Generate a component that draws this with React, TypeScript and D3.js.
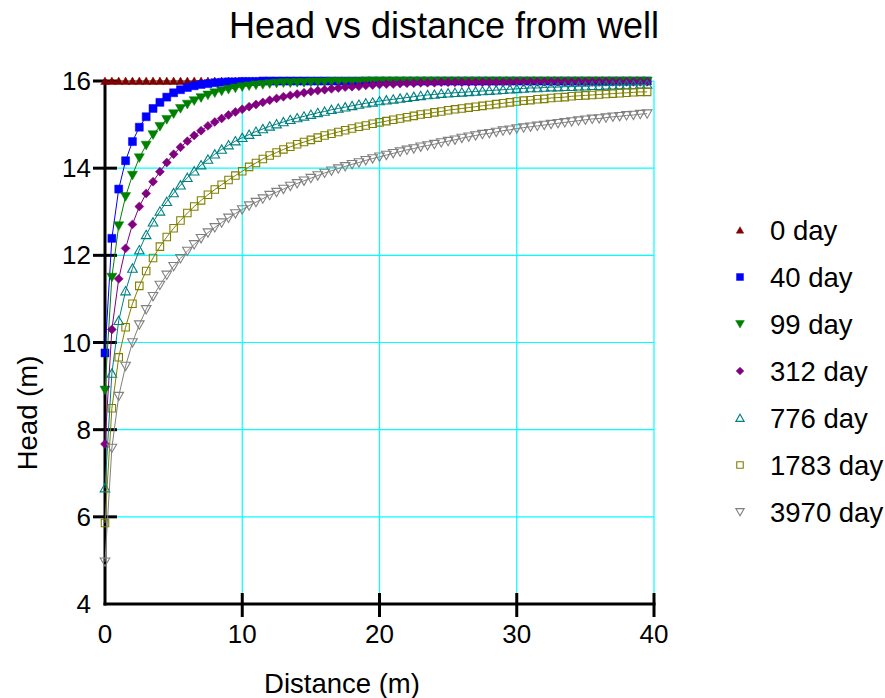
import React from "react";
import * as d3 from "d3";

// distance from the well (m), one sample every 0.5 m
const distance = d3.range(0, 40, 0.5);

const seriesNames = ["0 day", "40 day", "99 day", "312 day", "776 day", "1783 day", "3970 day"];
const seriesColors = ["#800000", "#0000ff", "#008000", "#800080", "#008080", "#808000", "#808080"];

const head0 = [
  16, 16, 16, 16, 16, 16, 16, 16, 16, 16, 16, 16, 16, 16, 16, 16, 16, 16, 16, 16,
  16, 16, 16, 16, 16, 16, 16, 16, 16, 16, 16, 16, 16, 16, 16, 16, 16, 16, 16, 16,
  16, 16, 16, 16, 16, 16, 16, 16, 16, 16, 16, 16, 16, 16, 16, 16, 16, 16, 16, 16,
  16, 16, 16, 16, 16, 16, 16, 16, 16, 16, 16, 16, 16, 16, 16, 16, 16, 16, 16, 16,
];
const head40 = [
  9.76, 12.39, 13.52, 14.17, 14.61, 14.94, 15.18, 15.37, 15.51, 15.63,
  15.73, 15.8, 15.85, 15.89, 15.92, 15.94, 15.96, 15.97, 15.98, 15.98,
  15.99, 15.99, 15.99, 16, 16, 16, 16, 16, 16, 16,
  16, 16, 16, 16, 16, 16, 16, 16, 16, 16, 16, 16, 16, 16, 16, 16, 16, 16, 16, 16,
  16, 16, 16, 16, 16, 16, 16, 16, 16, 16, 16, 16, 16, 16, 16, 16, 16, 16, 16, 16,
  16, 16, 16, 16, 16, 16, 16, 16, 16, 16,
];
const head99 = [
  8.91, 11.5, 12.68, 13.35, 13.84, 14.24, 14.53, 14.77, 14.96, 15.12,
  15.25, 15.37, 15.47, 15.55, 15.62, 15.68, 15.73, 15.77, 15.81, 15.84,
  15.87, 15.89, 15.91, 15.92, 15.94, 15.95, 15.96, 15.96, 15.97, 15.97,
  15.98, 15.98, 15.98, 15.99, 15.99, 15.99, 15.99, 15.99, 16, 16,
  16, 16, 16, 16, 16, 16, 16, 16, 16, 16, 16, 16, 16, 16, 16, 16, 16, 16, 16, 16,
  16, 16, 16, 16, 16, 16, 16, 16, 16, 16, 16, 16, 16, 16, 16, 16, 16, 16, 16, 16,
];
const head312 = [
  7.67, 10.3, 11.46, 12.16, 12.71, 13.12, 13.42, 13.69, 13.92, 14.13,
  14.32, 14.48, 14.62, 14.75, 14.86, 14.97, 15.06, 15.14, 15.22, 15.29,
  15.35, 15.41, 15.46, 15.51, 15.56, 15.6, 15.64, 15.67, 15.7, 15.73,
  15.76, 15.78, 15.8, 15.82, 15.84, 15.86, 15.87, 15.88, 15.9, 15.91,
  15.92, 15.93, 15.93, 15.94, 15.95, 15.95, 15.96, 15.96, 15.96, 15.97,
  15.97, 15.97, 15.97, 15.97, 15.97, 15.97, 15.97, 15.97, 15.97, 15.97,
  15.98, 15.98, 15.98, 15.98, 15.98, 15.98, 15.98, 15.98, 15.98, 15.98,
  15.98, 15.98, 15.98, 15.98, 15.98, 15.98, 15.98, 15.98, 15.98, 15.98,
];
const head776 = [
  6.66, 9.29, 10.5, 11.18, 11.7, 12.12, 12.47, 12.76, 13.01, 13.23,
  13.43, 13.61, 13.78, 13.93, 14.07, 14.2, 14.32, 14.43, 14.53, 14.62,
  14.7, 14.77, 14.84, 14.9, 14.96, 15.01, 15.06, 15.11, 15.15, 15.19,
  15.23, 15.27, 15.3, 15.34, 15.37, 15.4, 15.43, 15.46, 15.49, 15.51,
  15.54, 15.56, 15.58, 15.6, 15.62, 15.64, 15.66, 15.68, 15.69, 15.71,
  15.72, 15.73, 15.74, 15.75, 15.76, 15.77, 15.78, 15.79, 15.8, 15.81,
  15.82, 15.83, 15.84, 15.84, 15.85, 15.86, 15.86, 15.87, 15.87, 15.88,
  15.88, 15.89, 15.89, 15.9, 15.9, 15.91, 15.91, 15.91, 15.92, 15.92,
];
const head1783 = [
  5.86, 8.49, 9.66, 10.35, 10.89, 11.3, 11.64, 11.94, 12.2, 12.42,
  12.62, 12.8, 12.97, 13.12, 13.26, 13.39, 13.51, 13.62, 13.73, 13.83,
  13.93, 14.03, 14.12, 14.21, 14.29, 14.36, 14.43, 14.49, 14.55, 14.6,
  14.65, 14.7, 14.75, 14.79, 14.83, 14.87, 14.91, 14.95, 14.98, 15.02,
  15.05, 15.08, 15.11, 15.14, 15.17, 15.2, 15.23, 15.25, 15.28, 15.3,
  15.33, 15.35, 15.37, 15.39, 15.41, 15.43, 15.45, 15.47, 15.49, 15.51,
  15.53, 15.55, 15.56, 15.58, 15.59, 15.61, 15.62, 15.63, 15.65, 15.66,
  15.67, 15.68, 15.69, 15.7, 15.71, 15.72, 15.73, 15.74, 15.75, 15.75,
];
const head3970 = [
  4.97, 7.58, 8.77, 9.46, 10.0, 10.41, 10.76, 11.06, 11.32, 11.55,
  11.75, 11.93, 12.1, 12.25, 12.39, 12.52, 12.64, 12.75, 12.86, 12.96,
  13.05, 13.14, 13.22, 13.3, 13.38, 13.45, 13.52, 13.59, 13.65, 13.71,
  13.77, 13.83, 13.89, 13.94, 13.99, 14.04, 14.09, 14.13, 14.18, 14.22,
  14.26, 14.3, 14.34, 14.38, 14.42, 14.45, 14.49, 14.52, 14.55, 14.59,
  14.62, 14.65, 14.69, 14.72, 14.75, 14.78, 14.8, 14.83, 14.86, 14.88,
  14.91, 14.93, 14.95, 14.97, 14.99, 15.01, 15.03, 15.05, 15.07, 15.09,
  15.11, 15.13, 15.14, 15.16, 15.18, 15.19, 15.21, 15.22, 15.24, 15.25,
];

const xTicks = [0, 10, 20, 30, 40];
const yTicks = [4, 6, 8, 10, 12, 14, 16];

const allHeads = [head0, head40, head99, head312, head776, head1783, head3970];

// marker style per series: symbol, rotation, filled
const markers = [
  { type: d3.symbolTriangle, rotate: 0, filled: true, size: 32 },
  { type: d3.symbolSquare, rotate: 0, filled: true, size: 64 },
  { type: d3.symbolTriangle, rotate: 180, filled: true, size: 44 },
  { type: d3.symbolSquare, rotate: 45, filled: true, size: 40 },
  { type: d3.symbolTriangle, rotate: 0, filled: false, size: 40 },
  { type: d3.symbolSquare, rotate: 0, filled: false, size: 56 },
  { type: d3.symbolTriangle, rotate: 180, filled: false, size: 40 },
];

const W = 885;
const H = 698;
const margin = { left: 105, right: 231, top: 81, bottom: 94 };
const font = "Arial, 'Liberation Sans', sans-serif";

function Marker({ i, x, y, scale = 1 }) {
  const m = markers[i];
  const p = d3.symbol().type(m.type).size(m.size * scale)();
  const dy = m.type === d3.symbolTriangle ? (m.rotate ? -1 : 1) : 0;
  return (
    <path
      d={p}
      transform={`translate(${x},${y + dy}) rotate(${m.rotate})`}
      fill={m.filled ? seriesColors[i] : "none"}
      stroke={seriesColors[i]}
      strokeWidth={m.filled ? 0.5 : 1.1}
    />
  );
}

export default function App() {
  const x = d3.scaleLinear().domain([0, 40]).range([margin.left, W - margin.right]);
  const y = d3.scaleLinear().domain([4, 16]).range([H - margin.bottom, margin.top]);

  const line = d3
    .line<number>()
    .x((d, i) => x(distance[i]))
    .y((d) => y(d));

  return (
    <svg width={W} height={H} style={{ position: "absolute", left: 0, top: 0, background: "#fff" }}>
      {/* grid */}
      {xTicks.slice(1).map((t) => (
        <line key={"gx" + t} x1={x(t)} x2={x(t)} y1={y(4)} y2={y(16)} stroke="#00ffff" strokeWidth={1.2} />
      ))}
      {yTicks.slice(1).map((t) => (
        <line key={"gy" + t} x1={x(0)} x2={x(40)} y1={y(t)} y2={y(t)} stroke="#00ffff" strokeWidth={1.2} />
      ))}

      {/* axes */}
      <line x1={x(0)} x2={x(0)} y1={y(4) + 1.5} y2={y(16) - 1.5} stroke="#000" strokeWidth={3} />
      <line x1={x(0) - 1.5} x2={x(40) + 1.5} y1={y(4)} y2={y(4)} stroke="#000" strokeWidth={3} />
      {yTicks.slice(1).map((t) => (
        <line key={"ty" + t} x1={x(0) - 12} x2={x(0) + 12} y1={y(t)} y2={y(t)} stroke="#000" strokeWidth={3} />
      ))}
      {yTicks.map((t) => (
        <text key={"ly" + t} x={x(0) - 14} y={y(t)} textAnchor="end" dominantBaseline="central" fontFamily={font} fontSize={26}>
          {t}
        </text>
      ))}
      {xTicks.slice(1).map((t) => (
        <line key={"tx" + t} x1={x(t)} x2={x(t)} y1={y(4) - 11} y2={y(4) + 13} stroke="#000" strokeWidth={3} />
      ))}
      {xTicks.map((t) => (
        <text key={"lx" + t} x={x(t)} y={y(4) + 39} textAnchor="middle" fontFamily={font} fontSize={26}>
          {t}
        </text>
      ))}

      {/* series */}
      {allHeads.map((heads, i) => (
        <g key={"s" + i}>
          <path d={line(heads) || ""} fill="none" stroke={seriesColors[i]} strokeWidth={1} />
          {heads.map((h, j) => (
            <Marker key={j} i={i} x={x(distance[j])} y={y(h)} />
          ))}
        </g>
      ))}

      {/* titles */}
      <text x={444} y={38} textAnchor="middle" fontFamily={font} fontSize={36}>
        Head vs distance from well
      </text>
      <text x={342} y={693} textAnchor="middle" fontFamily={font} fontSize={27.5}>
        Distance (m)
      </text>
      <text
        transform={`translate(27,413) rotate(-90)`}
        textAnchor="middle"
        dominantBaseline="central"
        fontFamily={font}
        fontSize={27.5}
      >
        Head (m)
      </text>

      {/* legend */}
      {seriesNames.map((name, i) => (
        <g key={"lg" + i} transform={`translate(0,${230 + i * 47})`}>
          <Marker i={i} x={740} y={0} scale={0.75} />
          <text x={770} y={0} dominantBaseline="central" fontFamily={font} fontSize={27.5}>
            {name}
          </text>
        </g>
      ))}
    </svg>
  );
}
